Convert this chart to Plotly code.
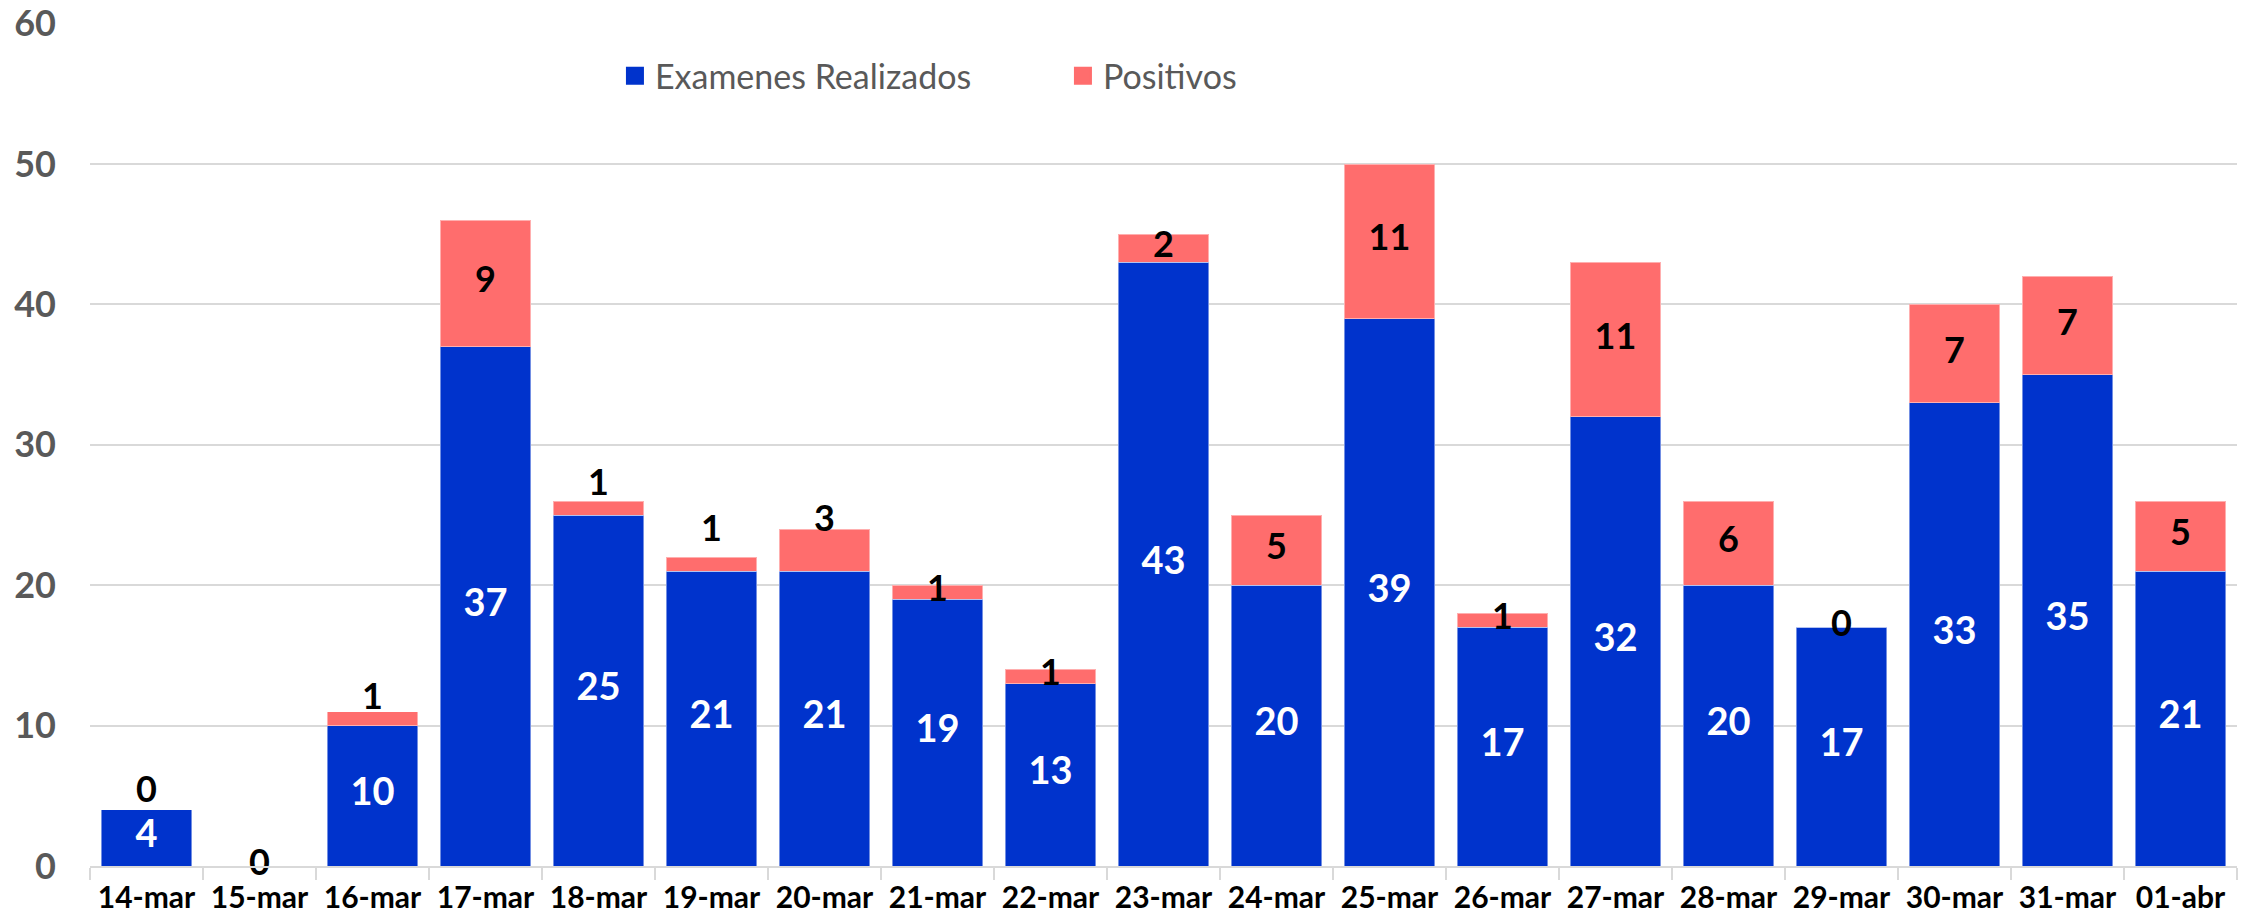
import plotly.graph_objects as go

fechas = ["14-mar", "15-mar", "16-mar", "17-mar", "18-mar", "19-mar", "20-mar",
          "21-mar", "22-mar", "23-mar", "24-mar", "25-mar", "26-mar", "27-mar",
          "28-mar", "29-mar", "30-mar", "31-mar", "01-abr"]
examenes = [4, 0, 10, 37, 25, 21, 21, 19, 13, 43, 20, 39, 17, 32, 20, 17, 33, 35, 21]
positivos = [0, 0, 1, 9, 1, 1, 3, 1, 1, 2, 5, 11, 1, 11, 6, 0, 7, 7, 5]
y_ticks = [0, 10, 20, 30, 40, 50, 60]

# label nudges (data units) for small segments, as placed in the original
label_shift = [1.2, 0, 1.35, 0, 1.6, 2.3, 2.0, 0, 0, 0, 0, 0, 0, 0, 0, 0, 0, 0, 0]

BLUE = "#0033CC"
RED = "#FF6D6D"
FONT = "Lato"

fig = go.Figure()
fig.add_trace(go.Bar(x=fechas, y=examenes, name="Examenes Realizados",
                     marker=dict(color=BLUE, line=dict(color="rgba(255,255,255,0.45)", width=1)),
                     showlegend=False, hoverinfo="skip"))
fig.add_trace(go.Bar(x=fechas, y=positivos, name="Positivos",
                     marker=dict(color=RED, line=dict(color="rgba(255,255,255,0.45)", width=1)),
                     showlegend=False, hoverinfo="skip"))

# legend proxies (no visible points)
fig.add_trace(go.Scatter(x=[fechas[0]], y=[None], mode="markers", name="Examenes Realizados",
                         marker=dict(symbol="square", size=16, color=BLUE, line=dict(color=BLUE, width=2))))
fig.add_trace(go.Scatter(x=[fechas[0]], y=[None], mode="markers", name="Positivos",
                         marker=dict(symbol="square", size=16, color=RED, line=dict(color=RED, width=2))))

# data labels
bx = [f for f, e in zip(fechas, examenes) if e > 0]
by = [e / 2 for e in examenes if e > 0]
bt = [str(e) for e in examenes if e > 0]
fig.add_trace(go.Scatter(x=bx, y=by, text=bt, mode="text", showlegend=False, hoverinfo="skip",
                         textfont=dict(family=FONT, size=38, color="white", weight="bold"),
                         cliponaxis=False))
ry = [e + p / 2 + s for e, p, s in zip(examenes, positivos, label_shift)]
fig.add_trace(go.Scatter(x=fechas, y=ry, text=[str(p) for p in positivos], mode="text",
                         showlegend=False, hoverinfo="skip",
                         textfont=dict(family=FONT, size=36, color="black", weight="bold"),
                         cliponaxis=False))

fig.update_layout(
    barmode="stack",
    bargap=0.2,
    width=2249, height=918,
    margin=dict(l=90, r=12, t=23, b=52, autoexpand=False),
    plot_bgcolor="white", paper_bgcolor="white",
    font=dict(family=FONT, color="#595959"),
    legend=dict(orientation="h", x=0.2445, y=0.937, xanchor="left", yanchor="middle",
                traceorder="normal",
                font=dict(family=FONT, size=34, color="#595959"),
                entrywidth=403, bgcolor="rgba(0,0,0,0)", itemclick=False),
    xaxis=dict(type="category", categoryorder="array", categoryarray=fechas,
               range=[-0.5, len(fechas) - 0.5],
               showgrid=False, showline=True, linecolor="#D9D9D9", linewidth=2,
               ticks="outside", tickson="boundaries", ticklen=12, tickcolor="#D9D9D9", tickwidth=2,
               tickangle=0, ticklabelstandoff=4,
               tickfont=dict(family=FONT, size=30, color="black", weight="bold"),
               automargin=False, fixedrange=True),
    yaxis=dict(range=[0, 60.05], tickvals=y_ticks, showgrid=True, gridcolor="#D9D9D9", gridwidth=2,
               zeroline=False, showline=False,
               tickfont=dict(family=FONT, size=36, color="#595959", weight="bold"),
               ticklabelstandoff=33, automargin=False, fixedrange=True),
)

fig.write_html("out.html", config={"displayModeBar": False},
               post_script="document.body.style.margin='0';document.body.style.overflow='hidden';")
